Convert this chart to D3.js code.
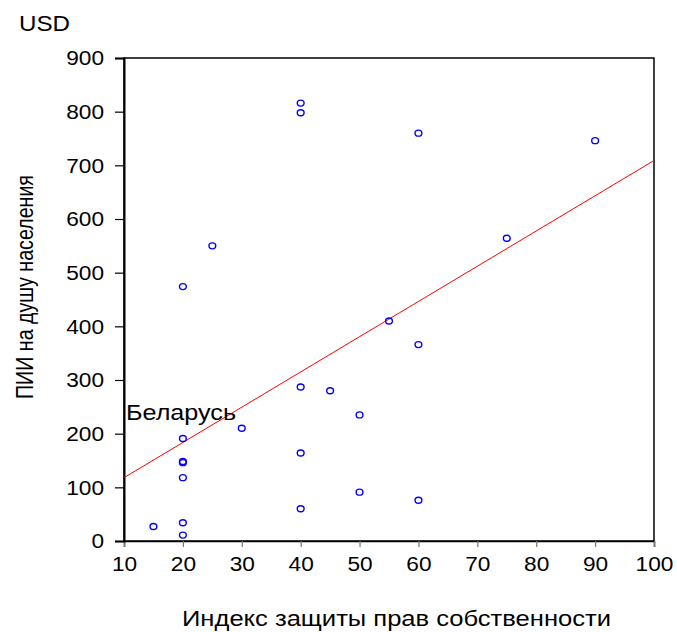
<!DOCTYPE html>
<html><head><meta charset="utf-8">
<script src="https://cdn.jsdelivr.net/npm/d3@7"></script>
<style>
body{margin:0;background:#fff;}
svg{display:block;font-family:"Liberation Sans",Arial,sans-serif;}
</style></head>
<body><svg id="c" width="677" height="632"></svg>
<script>
// Data
const propIndex = [40,40,25,20,60,90,75,55,60,50,50,60,40,45,30,20,20,20,20,40,40,15,20,20];
const fdiPerCapita = [816,798,550,474,760,746,564,410,366,235,91,76,287,280,210,191,148,146,118,164,60,27,34,11];
const fitX = [10,100];
const fitY = [118,709];
const xTicks = [10,20,30,40,50,60,70,80,90,100];
const yTicks = [0,100,200,300,400,500,600,700,800,900];
const labelText = "Беларусь";
const labelPoint = [10,218];

const svg = d3.select("#c");
const L=124,R=654,T=58,B=541;
const x = d3.scaleLinear().domain([10,100]).range([L,R]);
const y = d3.scaleLinear().domain([0,900]).range([B,T]);

// frame
svg.append("rect").attr("x",L).attr("y",T).attr("width",R-L).attr("height",B-T)
  .attr("fill","none").attr("stroke","#000").attr("stroke-width",1.5);

const sx = 1.08;
const gx = svg.append("g").attr("transform",`translate(0,${B})`)
  .call(d3.axisBottom(x).tickValues(xTicks).tickSize(6).tickPadding(9).tickFormat(d3.format("d")));
gx.select(".domain").attr("stroke","#000").attr("stroke-width",1.5);
gx.selectAll(".tick line").attr("stroke","#777").attr("stroke-width",1.2);
gx.selectAll(".tick text").attr("font-size",21).attr("fill","#000").attr("font-family",'"Liberation Sans",Arial,sans-serif')
  .style("transform-box","fill-box").style("transform-origin","center").style("transform",`scaleX(${sx})`);

const gy = svg.append("g").attr("transform",`translate(${L},0)`)
  .call(d3.axisLeft(y).tickValues(yTicks).tickSize(9).tickPadding(11).tickFormat(d3.format("d")));
gy.select(".domain").attr("stroke","#000").attr("stroke-width",2);
gy.selectAll(".tick line").attr("stroke","#000").attr("stroke-width",1.2);
gy.selectAll(".tick text").attr("font-size",21).attr("fill","#000").attr("font-family",'"Liberation Sans",Arial,sans-serif')
  .style("transform-box","fill-box").style("transform-origin","right center").style("transform",`scaleX(${sx})`);

// fit line
svg.append("line").attr("x1",x(fitX[0])).attr("y1",y(fitY[0])).attr("x2",x(fitX[1])).attr("y2",y(fitY[1]))
  .attr("stroke","#ff0000").attr("stroke-width",1);

// points
svg.append("g").selectAll("ellipse").data(propIndex.map((v,i)=>[v,fdiPerCapita[i]])).join("ellipse")
  .attr("cx",d=>x(d[0])).attr("cy",d=>y(d[1])).attr("rx",3.4).attr("ry",3)
  .attr("fill","none").attr("stroke","#0000ff").attr("stroke-width",1.4);

// texts
svg.append("text").attr("x",19).attr("y",31).attr("font-size",22).attr("textLength",51).attr("lengthAdjust","spacingAndGlyphs").text("USD");
svg.append("text").attr("x",x(labelPoint[0])+2).attr("y",420).attr("font-size",22).attr("textLength",110).attr("lengthAdjust","spacingAndGlyphs").text(labelText);
svg.append("text").attr("x",182).attr("y",626).attr("font-size",22)
  .attr("textLength",429).attr("lengthAdjust","spacingAndGlyphs").text("Индекс защиты прав собственности");
svg.append("text").attr("transform","translate(33,287) rotate(-90)").attr("text-anchor","middle").attr("font-size",23)
  .attr("textLength",224).attr("lengthAdjust","spacingAndGlyphs").text("ПИИ на душу населения");
</script></body></html>
